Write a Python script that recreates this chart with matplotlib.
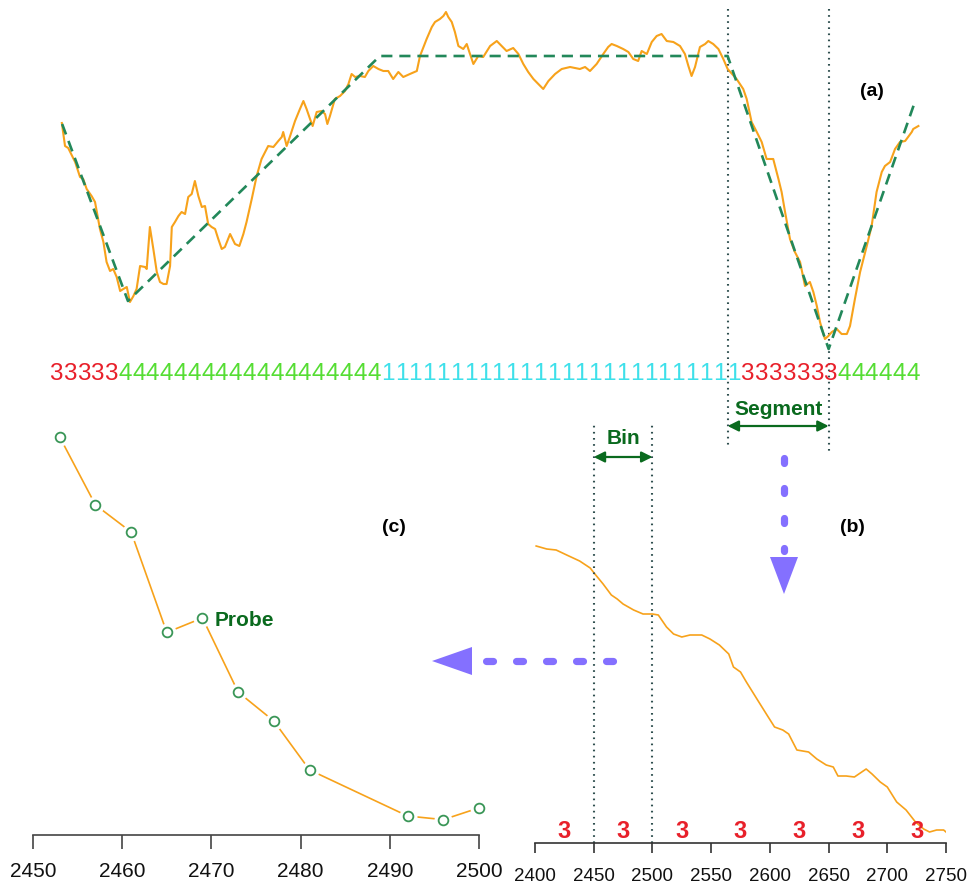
import numpy as np
import matplotlib.pyplot as plt
from matplotlib.patches import Polygon

plt.rcParams['font.family'] = ['Liberation Sans', 'DejaVu Sans']
plt.rcParams['lines.scale_dashes'] = False

# ---- colours ----
ORANGE = '#F7A21B'
SEAGREEN = '#22885A'
DOTTED = '#2F4F4F'
DKGREEN = '#0A6A1E'
PURPLE = '#8470FF'

# ---- (a) full series ----
a_t = [93, 104, 115, 139, 156, 167, 179, 196, 208, 225, 237, 248, 260, 271, 283, 295,
       306, 318, 329, 341, 352, 364, 381, 387, 398, 410, 422, 433, 445, 456, 468, 474,
       485, 497, 508, 520, 531, 543, 554, 566, 578, 589, 600, 612, 624, 635, 647, 658,
       676, 693, 708, 722, 733, 751, 768, 785, 808, 826, 843, 855, 860, 872, 884, 901,
       918, 930, 941, 953, 962, 976, 993, 1005, 1013, 1022, 1039, 1057, 1074, 1086, 1097,
       1109, 1126, 1143, 1155, 1172, 1190, 1207, 1224, 1241, 1259, 1276, 1299, 1323,
       1334, 1357, 1375, 1386, 1403, 1415, 1424, 1432, 1444, 1455, 1467, 1484, 1496,
       1505, 1519, 1536, 1553, 1577, 1600, 1617, 1634, 1657, 1675, 1692, 1709, 1727,
       1744, 1761, 1779, 1802, 1825, 1854, 1888, 1906, 1923, 1946, 1969, 1986, 1998,
       2016, 2038, 2056, 2073, 2090, 2102, 2120, 2137, 2154, 2171, 2189, 2212, 2235,
       2252, 2264, 2275, 2287, 2304, 2322, 2333, 2350, 2368, 2385, 2400, 2431, 2454,
       2466, 2483, 2501, 2518, 2535, 2558, 2576, 2587, 2599, 2616, 2633, 2651, 2668,
       2685, 2697, 2709, 2720, 2737, 2749, 2761, 2778, 2795, 2813, 2824, 2841, 2859,
       2882, 2899, 2916, 2934, 2945, 2963, 2980, 2997, 3015, 3038, 3043, 3061]
a_v = [236, 213, 211, 197, 182, 180, 170, 163, 157, 130, 117, 97, 88, 90, 82, 68,
       70, 72, 57, 63, 70, 93, 92, 90, 132, 110, 87, 77, 75, 75, 93, 132,
       137, 143, 147, 145, 162, 165, 178, 163, 152, 153, 135, 132, 130, 120, 110, 112,
       125, 115, 113, 125, 137, 160, 183, 200, 213, 212, 218, 222, 227, 213, 223, 238,
       250, 258, 250, 240, 233, 247, 248, 245, 235, 243, 260, 263, 268, 275, 285,
       282, 283, 282, 288, 293, 290, 288, 288, 280, 287, 282, 285, 288,
       303, 320, 332, 337, 340, 343, 347, 342, 337, 327, 313, 310, 315,
       307, 295, 303, 302, 313, 318, 313, 308, 311, 305, 295, 287, 280,
       275, 270, 278, 285, 290, 292, 290, 292, 288, 295, 305, 312, 315,
       313, 310, 307, 300, 298, 308, 305, 317, 323, 325, 318, 317, 313,
       305, 293, 283, 292, 312, 315, 318, 315, 310, 300, 290, 280, 270,
       260, 237, 227, 217, 200, 200, 180, 167, 147, 120, 107, 97, 73,
       77, 67, 53, 37, 20, 23, 27, 30, 25, 25, 33, 60, 87,
       113, 133, 167, 187, 193, 197, 210, 217, 218, 227, 230, 233]

# piecewise-linear fit
fit_t = [94, 322, 1195, 2400, 2750, 3045]
fit_v = [235, 58, 303, 303, 10, 254]

seg_start, seg_end = 2400, 2750

# symbol string under (a)
codes = [('3', 5), ('4', 19), ('1', 26), ('3', 7), ('4', 6)]
code_colors = {'3': '#E8202A', '4': '#55DD33', '1': '#3EE0EA'}

# ---- (b) one segment ----
b_t = [2401, 2410, 2418, 2427, 2438, 2447, 2451, 2458, 2465, 2470, 2475, 2484, 2492,
       2500, 2505, 2512, 2518, 2525, 2532, 2542, 2549, 2557, 2565, 2569, 2575, 2580,
       2589, 2597, 2604, 2611, 2616, 2623, 2633, 2640, 2648, 2654, 2658, 2665, 2672,
       2682, 2687, 2694, 2700, 2708, 2716, 2724, 2731, 2736, 2742, 2748, 2750]
b_v = [297, 294, 293, 288, 282, 275, 269, 259, 248, 244, 239, 233, 229,
       229, 228, 216, 209, 206, 208, 208, 204, 198, 189, 176, 171, 161,
       144, 129, 116, 113, 109, 93, 91, 84, 78, 76, 67, 67, 66,
       74, 69, 61, 56, 41, 33, 21, 14, 11, 13, 13, 11]
bin_edges = [2450, 2500]
bin_centers = [2425, 2475, 2525, 2575, 2625, 2675, 2725]
bin_codes = ['3', '3', '3', '3', '3', '3', '3']
b_ticks = [2400, 2450, 2500, 2550, 2600, 2650, 2700, 2750]

# ---- (c) one bin, probes ----
c_t = [2453, 2457, 2461, 2465, 2469, 2473, 2477, 2481, 2492, 2496, 2500]
c_v = [270.3, 262.8, 259.8, 248.7, 250.3, 242.1, 238.9, 233.5, 228.4, 228.0, 229.3]
c_ticks = [2450, 2460, 2470, 2480, 2490, 2500]

W, H = 969, 887
fig = plt.figure(figsize=(W / 100, H / 100), dpi=100)

# (a)
ax_a = fig.add_axes([0, 527 / H, 1, 360 / H])
ax_a.set_xlim(-121.3, 3236.3)
ax_a.set_ylim(0, 360)
ax_a.axis('off')
ax_a.plot(a_t, a_v, color=ORANGE, lw=1.5, zorder=2)
ax_a.plot(fit_t, fit_v, color=SEAGREEN, lw=1.9, dashes=(8, 5), zorder=3)
for x in (seg_start, seg_end):
    ax_a.plot([x, x], [350, -90 if x == seg_start else -96], color=DOTTED, lw=1.5,
              dashes=(1.2, 3.2), clip_on=False, zorder=1)
ax_a.text(2900, 269, '(a)', fontsize=14, fontweight='bold', ha='center', va='center')

labels = ''.join(c * n for c, n in codes)
x_pos = np.linspace(72, 3043, len(labels))
for x, c in zip(x_pos, labels):
    ax_a.text(x, -14, c, color=code_colors[c], fontsize=17.5, ha='center', va='center')

ax_a.annotate('', xy=(seg_start, -67), xytext=(seg_end, -67), annotation_clip=False,
              arrowprops=dict(arrowstyle='<|-|>', color=DKGREEN, lw=1.6,
                              mutation_scale=16, shrinkA=0, shrinkB=0))
ax_a.text((seg_start + seg_end) / 2, -50, 'Segment', color=DKGREEN, fontsize=15,
          fontweight='bold', ha='center', va='center')

# (b)
ax_b = fig.add_axes([535 / W, 43 / H, 411 / W, 424 / H])
ax_b.set_xlim(2400, 2750)
ax_b.set_ylim(0, 424)
ax_b.plot(b_t, b_v, color=ORANGE, lw=1.2)
for x in bin_edges:
    ax_b.plot([x, x], [0, 421], color=DOTTED, lw=1.5, dashes=(1.2, 3.2), clip_on=False)
for x, c in zip(bin_centers, bin_codes):
    ax_b.text(x, 12, c, color='#E8202A', fontsize=17, fontweight='bold',
              ha='center', va='center')
ax_b.annotate('', xy=(bin_edges[0], 386), xytext=(bin_edges[1], 386),
              arrowprops=dict(arrowstyle='<|-|>', color=DKGREEN, lw=1.6,
                              mutation_scale=16, shrinkA=0, shrinkB=0))
ax_b.text(sum(bin_edges) / 2, 406, 'Bin', color=DKGREEN, fontsize=15,
          fontweight='bold', ha='center', va='center')
ax_b.text(2670, 317, '(b)', fontsize=14, fontweight='bold', ha='center', va='center')
ax_b.set_xticks(b_ticks)
ax_b.set_yticks([])
for s in ('left', 'top', 'right'):
    ax_b.spines[s].set_visible(False)
ax_b.spines['bottom'].set_color('#333333')
ax_b.spines['bottom'].set_linewidth(1.2)
ax_b.tick_params(axis='x', length=7, width=1.2, color='#333333', pad=10,
                 labelsize=13.5, labelcolor='#111111')
ax_b.patch.set_alpha(0)

# (c)
ax_c = fig.add_axes([33 / W, 51 / H, 446 / W, 416 / H])
ax_c.set_xlim(2450, 2500)
ax_c.set_ylim(226.3, 272.3)
ax_c.plot(c_t, c_v, color=ORANGE, lw=1.2, clip_on=False)
ax_c.plot(c_t, c_v, ls='none', marker='o', ms=13, mfc='white', mec='none', clip_on=False)
ax_c.plot(c_t, c_v, ls='none', marker='o', ms=7, mfc='white', mec='#3A9657', mew=1.3,
          clip_on=False)
ax_c.text(c_t[4] + 1.4, c_v[4] - 0.2, 'Probe', color=DKGREEN, fontsize=15,
          fontweight='bold', ha='left', va='center')
ax_c.text(2490.5, 260.4, '(c)', fontsize=14, fontweight='bold', ha='center', va='center')
ax_c.set_xticks(c_ticks)
ax_c.set_yticks([])
for s in ('left', 'top', 'right'):
    ax_c.spines[s].set_visible(False)
ax_c.spines['bottom'].set_color('#444444')
ax_c.spines['bottom'].set_linewidth(1.2)
ax_c.tick_params(axis='x', length=10, width=1.2, color='#444444', pad=9,
                 labelsize=15, labelcolor='#111111')
ax_c.patch.set_alpha(0)

# overlay for the purple "zoom into" arrows (pixel layout)
ov = fig.add_axes([0, 0, 1, 1])
ov.set_xlim(0, W)
ov.set_ylim(H, 0)
ov.axis('off')
ov.patch.set_alpha(0)
ov.plot([784, 784], [458.5, 552], color=PURPLE, lw=5.2, dashes=(3.6, 18),
        solid_capstyle='round', dash_capstyle='round')
ov.add_patch(Polygon([[770, 558], [798, 558], [784, 595]], closed=True,
                     color=PURPLE, lw=0))
ov.plot([613.5, 486.5], [662, 662], color=PURPLE, lw=5.2, dashes=(5, 16.6),
        solid_capstyle='round', dash_capstyle='round')
ov.add_patch(Polygon([[472, 648], [472, 676], [432, 662]], closed=True,
                     color=PURPLE, lw=0))

fig.savefig('out.png', dpi=100, facecolor='white')
